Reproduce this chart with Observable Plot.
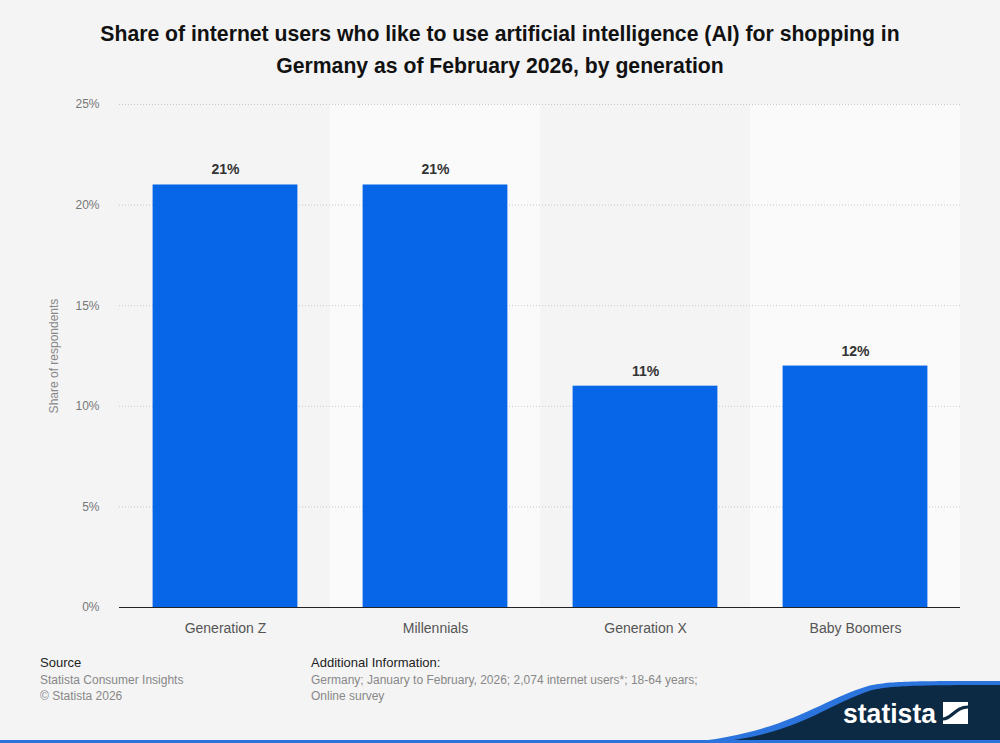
<!DOCTYPE html>
<html>
<head>
<meta charset="utf-8">
<script src="https://cdn.jsdelivr.net/npm/d3@7"></script>
<script src="https://cdn.jsdelivr.net/npm/@observablehq/plot@0.6"></script>
<style>
  html, body { margin: 0; padding: 0; background: #f4f4f4; }
  body { width: 1000px; height: 743px; position: relative; overflow: hidden; font-family: "Liberation Sans", Arial, sans-serif; }
  #title { position: absolute; top: 18px; left: 0; width: 1000px; text-align: center; font-weight: bold; font-size: 21.2px; line-height: 32px; color: #111; }
  #chart { position: absolute; top: 90px; left: 0; }
  .foot { position: absolute; font-size: 12px; line-height: 16.5px; color: #888; }
  .foot b { font-weight: normal; color: #222; font-size: 13px; }
  #logo { position: absolute; left: 0; top: 0; }
</style>
</head>
<body>
<div id="title">Share of internet users who like to use artificial intelligence (AI) for shopping in<br>Germany as of February 2026, by generation</div>
<div id="chart"></div>
<div class="foot" style="left:40px; top:655px;"><b>Source</b><br>Statista Consumer Insights<br>© Statista 2026</div>
<div class="foot" style="left:311px; top:655px;"><b>Additional Information:</b><br>Germany; January to February, 2026; 2,074 internet users*; 18-64 years;<br>Online survey</div>
<svg id="logo" width="1000" height="743" viewBox="0 0 1000 743">
  <path d="M680,743 C785,735 820,700 868,686 C890,681 910,681 1000,681 L1000,743 Z" fill="#2b74dd"/>
  <path d="M705,743 C795,737 825,705 872,690 C892,686 910,685 1000,685 L1000,743 Z" fill="#0c2a43"/>
  <text x="843" y="723" fill="#fff" font-family="'Liberation Sans', Arial, sans-serif" font-weight="bold" font-size="28" textLength="93" lengthAdjust="spacingAndGlyphs">statista</text>
  <rect x="943" y="702" width="25" height="22" fill="#fff"/>
  <path d="M943,719 C952,719 955,707 968,707" fill="none" stroke="#0c2a43" stroke-width="3.2"/>
  <rect x="0" y="740" width="1000" height="3" fill="#2b74dd"/>
</svg>
<script>
const categories = ["Generation Z", "Millennials", "Generation X", "Baby Boomers"];
const values = [21, 21, 11, 12];
const bandShades = ["#f4f4f4", "#fafafa", "#f4f4f4", "#fafafa"];
const yTicks = [0, 5, 10, 15, 20, 25];

const data = categories.map((c, i) => ({category: c, value: values[i], shade: bandShades[i]}));

const chart = Plot.plot({
  width: 1000,
  height: 557,
  marginLeft: 119,
  marginRight: 40,
  marginTop: 14,
  marginBottom: 40,
  style: {background: "transparent", fontFamily: "'Liberation Sans', Arial, sans-serif"},
  x: {domain: categories, padding: 0, label: null},
  y: {domain: [0, 25], label: null},
  marks: [
    Plot.barY(data, {x: "category", y1: 0, y2: 25, fill: "shade"}),
    Plot.gridY(yTicks, {stroke: "#c8c8c8", strokeOpacity: 1, strokeDasharray: "1,2"}),
    Plot.barY(data, {x: "category", y: "value", fill: "#0766e8", insetLeft: 32.6, insetRight: 32.6}),
    Plot.ruleY([0], {stroke: "#222", strokeWidth: 1.2}),
    Plot.text(data, {x: "category", y: "value", text: d => d.value + "%", dy: -15, fontWeight: "bold", fontSize: 14, fill: "#333"}),
    Plot.axisY(yTicks, {tickFormat: d => d + "%", tickSize: 0, tickPadding: 0, dx: -20, fontSize: 12, fill: "#777", label: null}),
    Plot.axisX({tickSize: 0, tickPadding: 16, fontSize: 14, fill: "#555", label: null}),
    Plot.text(["Share of respondents"], {frameAnchor: "left", textAnchor: "middle", dx: -65, rotate: -90, fontSize: 12, fill: "#888"})
  ]
});
document.getElementById("chart").appendChild(chart);
</script>
</body>
</html>
